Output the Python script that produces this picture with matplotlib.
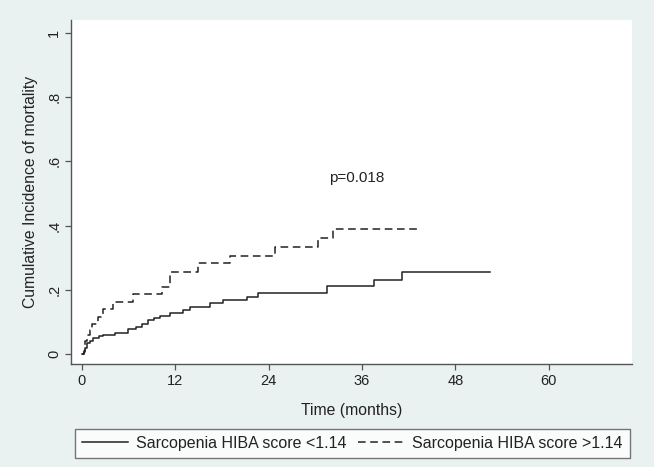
import matplotlib
matplotlib.use("Agg")
import matplotlib.pyplot as plt

plt.rcParams['font.family'] = ['Liberation Sans', 'DejaVu Sans']

# cumulative incidence, step after each time
low_t = [0.0, 0.2, 0.4, 0.6, 1.0, 1.4, 2.2, 2.7, 4.2, 5.9, 7.0, 7.7, 8.5, 9.3, 10.0,
         11.3, 13.0, 13.9, 16.5, 18.1, 21.2, 22.6, 31.5, 37.5, 41.1, 52.4]
low_ci = [0.0, 0.007, 0.02, 0.034, 0.042, 0.05, 0.055, 0.06, 0.066, 0.078, 0.085, 0.095,
          0.106, 0.112, 0.118, 0.129, 0.137, 0.148, 0.159, 0.168, 0.178, 0.191, 0.212,
          0.23, 0.256, 0.256]

high_t = [0.0, 0.2, 0.4, 0.7, 1.0, 1.3, 2.0, 2.7, 4.0, 6.6, 10.3, 11.3, 14.9, 19.0,
          24.8, 30.4, 32.3, 43.2]
high_ci = [0.0, 0.01, 0.04, 0.06, 0.075, 0.092, 0.114, 0.139, 0.163, 0.187, 0.21, 0.256,
           0.282, 0.305, 0.334, 0.36, 0.39, 0.39]

labels = ['Sarcopenia HIBA score <1.14', 'Sarcopenia HIBA score >1.14']
xticks = [0, 12, 24, 36, 48, 60]
yticks = [0, 0.2, 0.4, 0.6, 0.8, 1.0]
yticklabels = ['0', '.2', '.4', '.6', '.8', '1']

W, H = 654, 467
fig = plt.figure(figsize=(W / 100, H / 100), dpi=100)
fig.patch.set_facecolor('#eaf2f1')
ax = fig.add_axes([71 / W, 1 - 364 / H, (632 - 71) / W, (364 - 20) / H])
ax.set_facecolor('white')

ax.step(low_t, low_ci, where='post', color='#222222', lw=1.1, label=labels[0])
ax.step(high_t, high_ci, where='post', color='#222222', lw=1.1,
        dashes=(5, 3), label=labels[1])

ax.text(35.3, 0.548, 'p=0.018', ha='center', va='center', fontsize=11, color='#222222')

ax.set_xlim(-1.41, 70.7)
ax.set_ylim(-0.031, 1.04)
ax.set_xticks(xticks)
ax.set_yticks(yticks)
ax.set_yticklabels(yticklabels, rotation=90, va='center')
ax.tick_params(length=4, width=0.9, color='#555555', labelsize=10.5,
               labelcolor='#222222', pad=3)
for s in ['top', 'right']:
    ax.spines[s].set_visible(False)
for s in ['left', 'bottom']:
    ax.spines[s].set_color('#555555')
    ax.spines[s].set_linewidth(1.0)

ax.set_xlabel('Time (months)', fontsize=11.3, color='#222222', labelpad=11)
ax.set_ylabel('Cumulative Incidence of mortality', fontsize=11.3, color='#222222',
              labelpad=7)

leg = fig.legend(loc='center', ncol=2,
                 bbox_to_anchor=(352.5 / W, 1 - 443.5 / H),
                 fontsize=11.5, frameon=True, fancybox=False, handlelength=2.9,
                 handletextpad=0.5, borderaxespad=0, borderpad=0.45,
                 columnspacing=0.7)
leg.get_frame().set_edgecolor('#555555')
leg.get_frame().set_linewidth(1.0)
for t in leg.get_texts():
    t.set_color('#222222')

fig.savefig('out.png', dpi=100, facecolor=fig.get_facecolor())
